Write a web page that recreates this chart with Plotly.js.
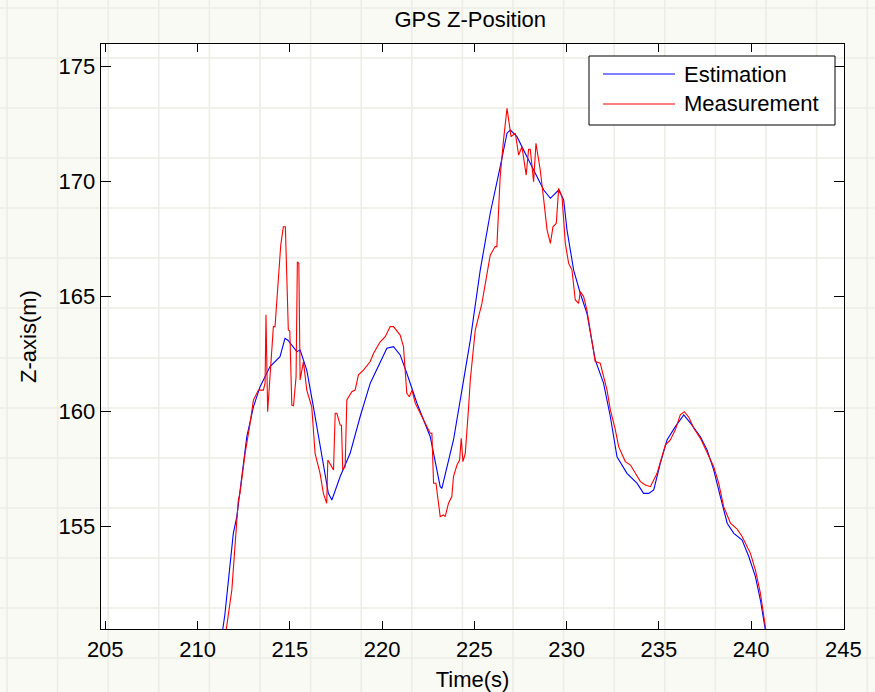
<!DOCTYPE html>
<html>
<head>
<meta charset="utf-8">
<script src="https://cdn.plot.ly/plotly-3.0.1.min.js"></script>
<style>html,body{margin:0;padding:0;background:#fafaf5;}#chart{width:875px;height:692px;}</style>
</head>
<body>
<div id="chart"></div>
<script>
// Estimation (blue)
const estT = [211.2,211.48,211.94,212.13,212.67,213.03,213.39,213.93,214.47,214.74,214.9,215.38,215.56,215.92,216.28,216.55,216.82,217.09,217.28,217.73,218.27,218.81,219.36,219.9,220.26,220.62,220.98,221.34,221.89,222.61,222.88,223.15,223.24,223.6,223.87,224.42,224.78,225.32,225.86,226.4,226.77,226.95,227.31,227.85,228.4,228.76,229.12,229.57,229.84,230.02,230.38,230.74,231.1,231.37,231.55,232.0,232.37,232.73,233.27,233.81,234.17,234.45,234.72,235.08,235.44,235.89,236.35,236.71,237.25,237.61,237.97,238.33,238.7,239.06,239.51,239.87,240.23,240.5,240.77,240.85];
const estZ = [149.6,151.15,154.7,155.43,158.9,160.2,161.08,161.95,162.38,163.18,163.1,162.6,162.67,161.8,160.2,158.9,157.6,156.44,156.15,157.17,158.18,159.77,161.23,162.1,162.75,162.82,162.46,161.66,160.36,158.9,157.75,156.73,156.66,157.9,158.76,161.37,163.1,166.15,168.62,170.64,172.1,172.24,171.95,171.08,170.2,169.63,169.27,169.63,169.2,167.9,166.15,165.14,164.27,163.1,162.24,161.23,159.77,158.03,157.31,156.88,156.44,156.44,156.59,157.75,158.76,159.34,159.85,159.49,158.9,158.33,157.46,156.3,155.14,154.7,154.41,153.69,152.82,151.8,150.64,150.1];

// Measurement (red)
const meaT = [211.5,211.56,211.86,212.21,212.3,212.58,212.85,213.03,213.3,213.57,213.66,213.71,213.8,213.93,214.11,214.2,214.33,214.51,214.65,214.76,214.92,215.0,215.11,215.2,215.34,215.41,215.49,215.56,215.74,215.92,216.19,216.37,216.64,216.82,217.0,217.06,217.37,217.46,217.55,217.73,217.8,217.87,218.0,218.09,218.36,218.54,218.72,218.99,219.36,219.54,219.9,220.17,220.44,220.62,220.98,221.16,221.34,221.48,221.62,221.8,222.07,222.61,222.7,222.79,222.92,223.15,223.33,223.42,223.6,223.78,223.87,224.06,224.2,224.29,224.38,224.51,224.69,224.78,225.05,225.41,225.86,226.13,226.22,226.4,226.58,226.77,226.99,227.22,227.4,227.58,227.81,227.94,228.03,228.21,228.34,228.57,228.76,228.94,229.12,229.26,229.44,229.57,229.75,229.93,230.11,230.29,230.47,230.65,230.74,230.92,231.1,231.28,231.55,231.82,232.19,232.37,232.64,232.82,233.18,233.46,233.63,234.0,234.27,234.54,234.9,235.35,235.62,235.89,236.16,236.38,236.62,236.89,237.25,237.61,237.97,238.24,238.51,238.88,239.24,239.51,239.96,240.23,240.5,240.77,240.85];
const meaZ = [149.9,150.54,152.24,156.15,156.44,158.18,159.49,160.5,160.93,160.93,161.23,164.2,159.99,161.66,163.69,163.69,165.14,167.24,168.03,168.03,163.54,163.5,160.28,160.25,161.51,166.51,166.44,161.37,162.17,160.93,160.2,158.18,157.31,156.44,156.01,157.89,157.46,159.92,159.92,159.41,159.4,157.46,157.6,160.5,160.86,160.93,161.59,161.8,162.17,162.53,163.03,163.25,163.69,163.69,163.32,162.82,160.79,160.64,160.93,160.36,159.92,159.05,159.05,156.88,156.88,155.43,155.5,155.43,156.01,156.3,157.17,157.67,157.89,158.83,157.82,158.18,160.2,161.37,163.54,164.7,166.8,167.17,167.17,170.21,171.8,173.18,171.95,172.1,171.15,171.51,170.28,171.4,171.4,169.99,171.66,170.5,169.2,167.9,167.31,168.03,168.18,169.7,169.34,167.31,166.44,166.15,164.85,164.7,165.21,165.0,164.41,163.5,162.17,162.1,160.93,160.07,159.2,158.47,157.82,157.67,157.46,156.95,156.8,156.73,157.31,158.54,158.76,159.2,159.85,159.99,159.75,159.27,158.83,158.18,157.6,156.88,155.86,155.14,154.88,154.56,153.83,153.1,152.1,150.64,150.1];

const seriesNames = ['Estimation', 'Measurement'];
const seriesColors = ['#0000ff', '#ff0000'];
const xTicks = [205,210,215,220,225,230,235,240,245];
const yTicks = [155,160,165,170,175];

const W = 875, H = 692;
const M = {l:101, r:31, t:44, b:63};
const PW = W - M.l - M.r, PH = H - M.t - M.b;
const px = x => (x - M.l) / PW;
const py = y => (H - M.b - y) / PH;

const FONT = 'Liberation Sans, Arial, sans-serif';

// graph-paper background
const shapes = [];
for (let gx = 7; gx < W; gx += 50.6) {
  shapes.push({type:'line', xref:'paper', yref:'paper', layer:'below',
    x0:px(gx), x1:px(gx), y0:py(0), y1:py(H), line:{color:'#ededE6', width:1.6}});
}
for (let gy = 8; gy < H; gy += 50) {
  shapes.push({type:'line', xref:'paper', yref:'paper', layer:'below',
    x0:px(0), x1:px(W), y0:py(gy), y1:py(gy), line:{color:'#ededE6', width:1.6}});
}
// custom legend
shapes.push({type:'rect', xref:'paper', yref:'paper', layer:'above',
  x0:px(589), x1:px(835), y0:py(125), y1:py(56), fillcolor:'#ffffff', line:{color:'#000000', width:1}});
const legY = [74, 104];
const annotations = [];
seriesNames.forEach((n, i) => {
  shapes.push({type:'line', xref:'paper', yref:'paper', layer:'above',
    x0:px(603), x1:px(675), y0:py(legY[i]), y1:py(legY[i]), line:{color:seriesColors[i], width:1}});
  annotations.push({xref:'paper', yref:'paper', x:px(682), y:py(legY[i]), xanchor:'left', yanchor:'middle',
    text:n, showarrow:false, font:{family:FONT, size:22, color:'#000000'}});
});

const traces = [
  {x: estT, y: estZ, type:'scatter', mode:'lines', name:seriesNames[0], line:{color:seriesColors[0], width:1.1}},
  {x: meaT, y: meaZ, type:'scatter', mode:'lines', name:seriesNames[1], line:{color:seriesColors[1], width:1.1}}
];

const layout = {
  width: W, height: H,
  margin: M,
  paper_bgcolor: '#fafaf5',
  plot_bgcolor: '#ffffff',
  showlegend: false,
  font: {family: FONT, size: 22, color: '#000000'},
  title: {text: 'GPS Z-Position', x: 0.497, xref: 'paper', y: 1 - 19.5/H, yref: 'container', yanchor: 'middle',
          font: {family: FONT, size: 22, color: '#000000'}},
  xaxis: {range: [204.77, 245.03], tickvals: xTicks, ticks: 'inside', ticklen: 8, tickcolor: '#000000',
          showline: true, linecolor: '#000000', linewidth: 1.3, mirror: 'ticks', showgrid: false, zeroline: false,
          title: {text: 'Time(s)', standoff: 11, font: {family: FONT, size: 22}}, tickfont: {family: FONT, size: 22}},
  yaxis: {range: [150.54, 175.98], tickvals: yTicks, ticks: 'inside', ticklen: 10, tickcolor: '#000000',
          showline: true, linecolor: '#000000', linewidth: 1.3, mirror: 'ticks', showgrid: false, zeroline: false,
          title: {text: 'Z-axis(m)', standoff: 16, font: {family: FONT, size: 22}}, tickfont: {family: FONT, size: 22}},
  shapes: shapes,
  annotations: annotations
};

Plotly.newPlot('chart', traces, layout, {displayModeBar: false, staticPlot: true});
</script>
</body>
</html>
